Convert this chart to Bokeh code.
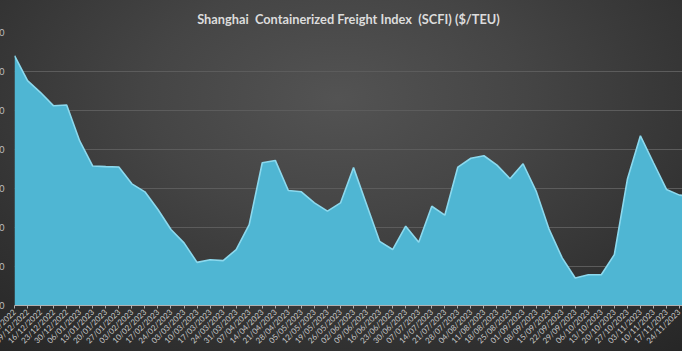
import math
from bokeh.plotting import figure
from bokeh.models import FixedTicker, Range1d, ColumnDataSource
from bokeh.embed import file_html
from bokeh.resources import INLINE

# ---- data ----
dates = [
    "02/12/2022", "09/12/2022", "16/12/2022", "23/12/2022", "30/12/2022",
    "06/01/2023", "13/01/2023", "20/01/2023", "27/01/2023", "03/02/2023",
    "10/02/2023", "17/02/2023", "24/02/2023", "03/03/2023", "10/03/2023",
    "17/03/2023", "24/03/2023", "31/03/2023", "07/04/2023", "14/04/2023",
    "21/04/2023", "28/04/2023", "05/05/2023", "12/05/2023", "19/05/2023",
    "26/05/2023", "02/06/2023", "09/06/2023", "16/06/2023", "23/06/2023",
    "30/06/2023", "07/07/2023", "14/07/2023", "21/07/2023", "28/07/2023",
    "04/08/2023", "11/08/2023", "18/08/2023", "25/08/2023", "01/09/2023",
    "08/09/2023", "15/09/2023", "22/09/2023", "29/09/2023", "06/10/2023",
    "13/10/2023", "20/10/2023", "27/10/2023", "03/11/2023", "10/11/2023",
    "17/11/2023", "24/11/2023", "01/12/2023",
]
scfi = [
    1281, 1153, 1092, 1024, 1028, 844, 715, 712, 710, 624,
    583, 492, 390, 321, 221, 235, 230, 287, 415, 732,
    744, 590, 583, 526, 484, 526, 707, 518, 329, 287,
    407, 324, 509, 463, 710, 755, 768, 720, 650, 727,
    587, 390, 244, 141, 158, 158, 261, 647, 870, 732,
    595, 566, 560,
]
y_ticks = [0, 200, 400, 600, 800, 1000, 1200, 1400]
title_text = "Shanghai\u00a0 Containerized Freight Index\u00a0 (SCFI) ($/TEU)"

idx = list(range(len(dates)))
src = ColumnDataSource(dict(x=idx, y=scfi))

LEFT = 50
SHIFT = 36
W = 682 + SHIFT
H = 351

p = figure(
    width=W, height=H,
    output_backend="svg", toolbar_location=None,
    x_range=Range1d(0, 668 / 13.04), y_range=Range1d(0, 1400),
    min_border_left=LEFT, min_border_right=0, min_border_top=32, min_border_bottom=0,
    margin=(0, 0, 0, -SHIFT),
)
p.styles = {
    "background": "radial-gradient(ellipse 75% 95% at 52% 28%, #535353 0%, #454545 35%, #333333 70%, #262626 100%)"
}
p.background_fill_alpha = 0
p.border_fill_alpha = 0
p.outline_line_color = None

p.title.text = title_text
p.title.align = "center"
p.title.text_color = "#dcdcdc"
p.title.text_font = "Lato"
p.title.text_font_size = "12.8px"
p.title.text_font_style = "bold"
p.title.standoff = 12

p.varea(x="x", y1=0, y2="y", source=src, fill_color="#4fb6d3")
p.line(x="x", y="y", source=src, line_color="#8cd9ee", line_width=1.6)

p.xgrid.grid_line_color = None
p.ygrid.grid_line_color = "#5c5c5c"
p.ygrid.grid_line_width = 1
p.ygrid.level = "underlay"

p.yaxis.ticker = FixedTicker(ticks=y_ticks)
p.yaxis.axis_line_color = None
p.yaxis.major_tick_line_color = None
p.yaxis.minor_tick_line_color = None
p.yaxis.major_tick_out = 0
p.yaxis.major_tick_in = 0
p.yaxis.major_label_standoff = 10
p.yaxis.major_label_text_color = "#bfbfbf"
p.yaxis.major_label_text_font = "Lato"
p.yaxis.major_label_text_font_size = "9px"

p.xaxis.ticker = FixedTicker(ticks=idx)
p.xaxis.major_label_overrides = {i: d for i, d in enumerate(dates)}
p.xaxis.major_label_orientation = math.pi / 4
p.xaxis.axis_line_color = "#b0b0b0"
p.xaxis.major_tick_line_color = "#b0b0b0"
p.xaxis.minor_tick_line_color = None
p.xaxis.major_tick_out = 3
p.xaxis.major_tick_in = 0
p.xaxis.major_label_standoff = 2
p.xaxis.major_label_text_color = "#c8c8c8"
p.xaxis.major_label_text_font = "Lato"
p.xaxis.major_label_text_font_size = "8px"

open("out.html", "w").write(file_html(p, INLINE))
